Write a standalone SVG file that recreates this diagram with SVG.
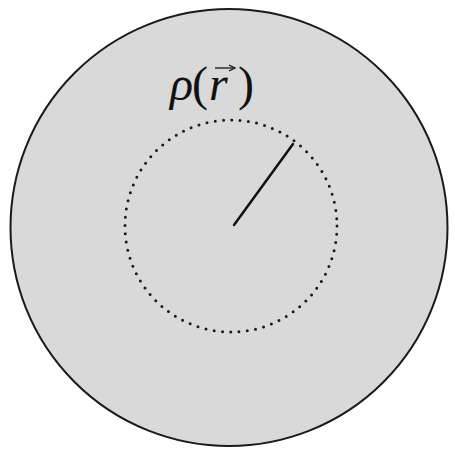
<svg xmlns="http://www.w3.org/2000/svg" width="455" height="454" viewBox="0 0 455 454">
<style>
.lbl{font-family:"Liberation Serif","Times New Roman",serif;font-size:48px;fill:#111}
.it{font-style:italic}
</style>
<rect width="455" height="454" fill="#ffffff"/>
<g id="sphere">
<circle cx="229" cy="227.5" r="218.5" fill="#d9d9d9" stroke="#1a1a1a" stroke-width="2"/>
</g>
<g id="inner">
<circle cx="231" cy="226" r="106" fill="none" stroke="#1a1a1a" stroke-width="3" stroke-linecap="round" stroke-dasharray="0 8.33"/>
</g>
<g id="connectors">
<line x1="234" y1="225" x2="293" y2="144" stroke="#111" stroke-width="2.5" stroke-linecap="round"/>
</g>
<g id="label">
<text class="lbl" y="100"><tspan class="it" x="170">ρ</tspan><tspan x="192">(</tspan><tspan class="it" x="209">r</tspan><tspan x="238">)</tspan></text>
<line x1="215" y1="68" x2="233" y2="68" stroke="#111" stroke-width="1.3"/>
<path d="M229,65 L235,68 L229,71" fill="none" stroke="#111" stroke-width="1.3"/>
</g>
</svg>
